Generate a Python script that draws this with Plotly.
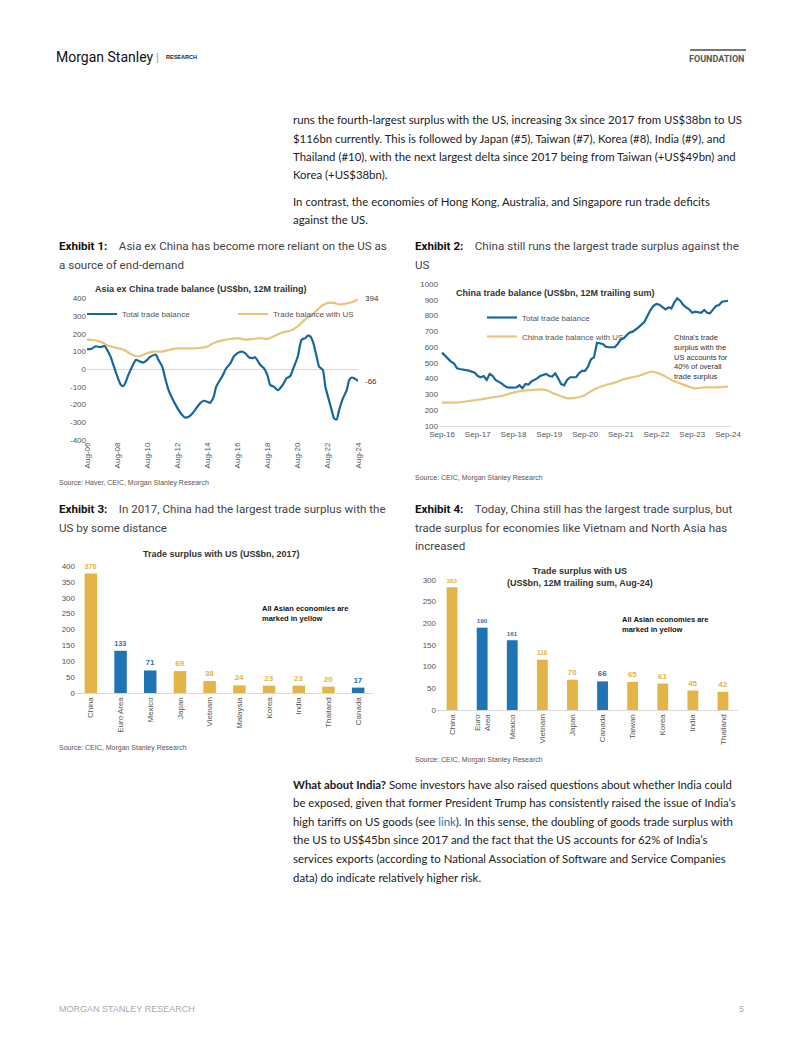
import plotly.graph_objects as go

W, H = 802, 1037
OFF = 8  # the page body adds an 8px margin around the figure


def px(x):
    return (x - OFF) / W


def py(y):
    return 1 - (y - OFF) / H


# ---------------- Exhibit 1 data: Asia ex China trade balance (US$bn, 12M trailing)
ex1_total_dates = ["2006-08", "2006-11", "2007-03", "2007-07", "2007-10", "2007-12", "2008-03", "2008-05",
                   "2008-08", "2008-11", "2009-01", "2009-03", "2009-05", "2009-08", "2009-11", "2010-02",
                   "2010-05", "2010-08", "2010-10", "2011-02", "2011-03", "2011-05", "2011-08", "2011-10",
                   "2012-01", "2012-04", "2012-06", "2012-09", "2012-12", "2013-02", "2013-05", "2013-08",
                   "2013-12", "2014-02", "2014-05", "2014-08", "2014-10", "2015-01", "2015-03", "2015-06",
                   "2015-08", "2015-11", "2016-02", "2016-05", "2016-08", "2016-11", "2017-02", "2017-05",
                   "2017-08", "2017-10", "2018-02", "2018-05", "2018-08", "2018-10", "2019-01", "2019-04",
                   "2019-08", "2019-11", "2020-02", "2020-04", "2020-08", "2020-11", "2021-02", "2021-04",
                   "2021-06", "2021-08", "2021-11", "2022-01", "2022-04", "2022-06", "2022-08", "2022-11",
                   "2023-01", "2023-03", "2023-05", "2023-08", "2023-11", "2024-01", "2024-03", "2024-05",
                   "2024-08"]
ex1_total_vals = [114, 114, 129, 125, 133, 110, 68, 25,
                  -38, -89, -95, -70, -32, 15, 53, 44,
                  38, 53, 68, 82, 82, 53, 15, -42,
                  -118, -165, -193, -231, -260, -273, -269, -250,
                  -212, -193, -178, -184, -190, -155, -99, -61,
                  -38, 6, 30, 72, 91, 100, 91, 68,
                  63, 68, 25, 6, -38, -89, -99, -118,
                  -89, -51, -38, -4, 72, 167, 176, 190,
                  186, 157, 72, 15, -4, -99, -152, -231,
                  -279, -284, -231, -165, -118, -61, -47, -51,
                  -66]
ex1_us_dates = ["2006-08", "2007-04", "2007-08", "2008-01", "2008-08", "2009-01", "2009-08", "2010-01",
                "2010-08", "2011-01", "2011-08", "2012-02", "2012-08", "2013-08", "2014-02", "2014-08",
                "2015-01", "2015-08", "2016-02", "2016-08", "2017-02", "2017-08", "2018-02", "2018-08",
                "2019-02", "2019-08", "2020-02", "2020-08", "2021-02", "2021-08", "2022-02", "2022-08",
                "2023-01", "2023-05", "2023-08", "2024-03", "2024-08"]
ex1_us_vals = [167, 161, 152, 133, 120, 110, 82, 72,
               91, 100, 100, 110, 118, 118, 120, 129,
               148, 163, 171, 176, 167, 171, 176, 171,
               190, 209, 218, 243, 284, 309, 353, 375,
               375, 366, 368, 379, 394]
ex1_tick_dates = ["2006-08", "2008-08", "2010-08", "2012-08", "2014-08", "2016-08", "2018-08", "2020-08",
                  "2022-08", "2024-08"]
ex1_tick_labels = ["Aug-06", "Aug-08", "Aug-10", "Aug-12", "Aug-14", "Aug-16", "Aug-18", "Aug-20",
                   "Aug-22", "Aug-24"]
ex1_y_ticks = [-400, -300, -200, -100, 0, 100, 200, 300, 400]

# ---------------- Exhibit 2 data: China trade balance (US$bn, 12M trailing sum)
ex2_total_dates = ["2016-09", "2016-10", "2016-11", "2016-12", "2017-01", "2017-02", "2017-03", "2017-06",
                   "2017-08", "2017-09", "2017-10", "2017-11", "2017-12", "2018-01", "2018-02", "2018-03",
                   "2018-05", "2018-06", "2018-07", "2018-08", "2018-10", "2018-11", "2018-12", "2019-01",
                   "2019-02", "2019-03", "2019-05", "2019-06", "2019-08", "2019-09", "2019-10", "2019-11",
                   "2019-12", "2020-01", "2020-02", "2020-03", "2020-04", "2020-06", "2020-07", "2020-08",
                   "2020-09", "2020-10", "2020-11", "2020-12", "2021-01", "2021-03", "2021-04", "2021-05",
                   "2021-07", "2021-08", "2021-09", "2021-10", "2021-11", "2021-12", "2022-01", "2022-02",
                   "2022-03", "2022-05", "2022-06", "2022-07", "2022-08", "2022-09", "2022-10", "2022-11",
                   "2022-12", "2023-01", "2023-02", "2023-03", "2023-04", "2023-05", "2023-06", "2023-07",
                   "2023-08", "2023-09", "2023-10", "2023-12", "2024-01", "2024-02", "2024-03", "2024-04",
                   "2024-05", "2024-06", "2024-07", "2024-09"]
ex2_total_vals = [565, 544, 529, 508, 497, 466, 461, 451,
                  438, 417, 409, 417, 392, 430, 417, 392,
                  370, 354, 345, 343, 345, 358, 339, 366,
                  362, 381, 402, 417, 430, 417, 413, 434,
                  402, 366, 358, 392, 409, 409, 434, 449,
                  449, 476, 523, 535, 628, 620, 603, 599,
                  599, 620, 649, 656, 677, 692, 698, 713,
                  725, 761, 804, 835, 861, 873, 869, 856,
                  839, 852, 846, 882, 909, 894, 867, 852,
                  839, 818, 825, 818, 835, 818, 814, 839,
                  861, 867, 888, 894]
ex2_us_dates = ["2016-09", "2016-11", "2017-02", "2017-07", "2017-10", "2018-02", "2018-05", "2018-08",
                "2018-12", "2019-03", "2019-06", "2019-08", "2019-11", "2020-02", "2020-03", "2020-07",
                "2020-09", "2020-12", "2021-04", "2021-07", "2021-10", "2022-03", "2022-07", "2022-08",
                "2022-11", "2023-02", "2023-05", "2023-08", "2023-10", "2024-01", "2024-05", "2024-09"]
ex2_us_vals = [248, 248, 248, 261, 269, 282, 290, 307,
               324, 328, 332, 328, 303, 282, 275, 282,
               297, 332, 360, 375, 396, 417, 444, 444,
               423, 392, 370, 349, 339, 345, 345, 349]
ex2_tick_dates = ["2016-09", "2017-09", "2018-09", "2019-09", "2020-09", "2021-09", "2022-09", "2023-09",
                  "2024-09"]
ex2_tick_labels = ["Sep-16", "Sep-17", "Sep-18", "Sep-19", "Sep-20", "Sep-21", "Sep-22", "Sep-23", "Sep-24"]
ex2_y_ticks = [100, 200, 300, 400, 500, 600, 700, 800, 900, 1000]

# ---------------- Exhibit 3 data: Trade surplus with US (US$bn, 2017)
ex3_countries = ["China", "Euro Area", "Mexico", "Japan", "Vietnam", "Malaysia", "Korea", "India",
                 "Thailand", "Canada"]
ex3_values = [376, 133, 71, 69, 38, 24, 23, 23, 20, 17]
ex3_is_asian = [True, False, False, True, True, True, True, True, True, False]
ex3_y_ticks = [0, 50, 100, 150, 200, 250, 300, 350, 400]

# ---------------- Exhibit 4 data: Trade surplus with US (US$bn, 12M trailing sum, Aug-24)
ex4_countries = ["China", "Euro<br>Area", "Mexico", "Vietnam", "Japan", "Canada", "Taiwan", "Korea",
                 "India", "Thailand"]
ex4_values = [283, 190, 161, 116, 70, 66, 65, 61, 45, 42]
ex4_is_asian = [True, False, False, True, True, False, True, True, True, True]
ex4_y_ticks = [0, 50, 100, 150, 200, 250, 300]

# ---------------- styles
BLUE_LINE = "#17679f"
GOLD_LINE = "#e6c57c"
BLUE_BAR = "#1f74b3"
GOLD_BAR = "#e3b448"
CHART_FONT = "Liberation Sans, Arial, sans-serif"
TICK_FONT = dict(family=CHART_FONT, size=8, color="#555555")
AXIS_GREY = "#d9d9d9"


def ylabels(vals):
    return [str(v) for v in vals]


fig = go.Figure()

# Exhibit 1 lines
fig.add_trace(go.Scatter(x=ex1_total_dates, y=ex1_total_vals, mode="lines", name="Total trade balance",
                         line=dict(color=BLUE_LINE, width=2.2, shape="spline", smoothing=0.6),
                         xaxis="x", yaxis="y", legend="legend"))
fig.add_trace(go.Scatter(x=ex1_us_dates, y=ex1_us_vals, mode="lines", name="Trade balance with US",
                         line=dict(color=GOLD_LINE, width=2.2, shape="spline", smoothing=0.6),
                         xaxis="x", yaxis="y", legend="legend"))

# Exhibit 2 lines
fig.add_trace(go.Scatter(x=ex2_total_dates, y=ex2_total_vals, mode="lines", name="Total trade balance",
                         line=dict(color=BLUE_LINE, width=2.2),
                         xaxis="x2", yaxis="y2", legend="legend2", legendgroup="a"))
fig.add_trace(go.Scatter(x=ex2_us_dates, y=ex2_us_vals, mode="lines", name="China trade balance with US",
                         line=dict(color=GOLD_LINE, width=2.2, shape="spline", smoothing=0.5),
                         xaxis="x2", yaxis="y2", legend="legend2", legendgroup="b"))

# Exhibit 3 bars
ex3_colors = [GOLD_BAR if a else BLUE_BAR for a in ex3_is_asian]
fig.add_trace(go.Bar(x=ex3_countries, y=ex3_values, marker=dict(color=ex3_colors, line=dict(width=0)),
                     width=0.42, text=ex3_values, texttemplate="<b>%{text}</b>", textposition="outside",
                     textfont=dict(family=CHART_FONT, size=8, color=ex3_colors), cliponaxis=False,
                     showlegend=False, xaxis="x3", yaxis="y3"))

# Exhibit 4 bars
ex4_colors = [GOLD_BAR if a else BLUE_BAR for a in ex4_is_asian]
fig.add_trace(go.Bar(x=ex4_countries, y=ex4_values, marker=dict(color=ex4_colors, line=dict(width=0)),
                     width=0.36, text=ex4_values, texttemplate="<b>%{text}</b>", textposition="outside",
                     textfont=dict(family=CHART_FONT, size=8, color=ex4_colors), cliponaxis=False,
                     showlegend=False, xaxis="x4", yaxis="y4"))

common_axis = dict(automargin=False, showgrid=False, ticks="", tickfont=TICK_FONT)

layout = dict(
    template="none",
    width=W, height=H, margin=dict(l=0, r=0, t=0, b=0, pad=0, autoexpand=False),
    paper_bgcolor="white", plot_bgcolor="rgba(0,0,0,0)",
    font=dict(family=CHART_FONT, size=8, color="#444"),
    # Exhibit 1 axes
    xaxis=dict(domain=[px(87), px(358)], range=["2006-08-01", "2024-08-01"], type="date",
               tickvals=ex1_tick_dates, ticktext=ex1_tick_labels, tickangle=-90,
               showline=False, zeroline=False, anchor="y", **common_axis),
    yaxis=dict(domain=[py(440), py(298.5)], range=[-400, 400], tickvals=ex1_y_ticks,
               ticktext=ylabels(ex1_y_ticks), zeroline=True, zerolinecolor=AXIS_GREY,
               zerolinewidth=1, showline=False, anchor="x", **common_axis),
    # Exhibit 2 axes
    xaxis2=dict(domain=[px(439), px(731)], range=["2016-08-01", "2024-10-01"], type="date",
                tickvals=ex2_tick_dates, ticktext=ex2_tick_labels, tickangle=0,
                showline=True, linecolor=AXIS_GREY, linewidth=1, zeroline=False, anchor="y2",
                **common_axis),
    yaxis2=dict(domain=[py(426), py(284)], range=[100, 1000], tickvals=ex2_y_ticks,
                ticktext=ylabels(ex2_y_ticks), zeroline=False, showline=False, anchor="x2",
                **common_axis),
    # Exhibit 3 axes
    xaxis3=dict(domain=[px(76), px(373)], type="category", range=[-0.5, 9.5], tickangle=-90,
                showline=True, linecolor=AXIS_GREY, linewidth=1, anchor="y3", **common_axis),
    yaxis3=dict(domain=[py(693), py(566)], range=[0, 400], tickvals=ex3_y_ticks,
                ticktext=ylabels(ex3_y_ticks), zeroline=False, showline=False, anchor="x3",
                **common_axis),
    # Exhibit 4 axes
    xaxis4=dict(domain=[px(437), px(738)], type="category", range=[-0.5, 9.5], tickangle=-90,
                showline=True, linecolor=AXIS_GREY, linewidth=1, anchor="y4", **common_axis),
    yaxis4=dict(domain=[py(710), py(580)], range=[0, 300], tickvals=ex4_y_ticks,
                ticktext=ylabels(ex4_y_ticks), zeroline=False, showline=False, anchor="x4",
                **common_axis),
    legend=dict(x=px(82), y=py(314), xanchor="left", yanchor="middle", orientation="h",
                font=dict(family=CHART_FONT, size=8, color="#555"), bgcolor="rgba(0,0,0,0)",
                itemwidth=30, entrywidth=106, entrywidthmode="pixels", borderwidth=0),
    legend2=dict(x=px(482), y=py(303), xanchor="left", yanchor="top", orientation="v",
                 font=dict(family=CHART_FONT, size=8, color="#555"), bgcolor="rgba(0,0,0,0)",
                 itemwidth=30, tracegroupgap=0, borderwidth=0),
)
fig.update_layout(**layout)

annotations = []


def note(x, y, text, size=8, color="#333", family=CHART_FONT, xanchor="left", yanchor="middle",
         align="left"):
    annotations.append(dict(x=px(x), y=py(y), xref="paper", yref="paper", text=text, showarrow=False,
                            xanchor=xanchor, yanchor=yanchor, align=align,
                            font=dict(size=size, color=color, family=family)))


# Header
note(54, 57, "Morgan Stanley", size=14, color="#111", family="Roboto, sans-serif")
note(154, 57, "|", size=11, color="#999")
note(164, 57.5, "<b>RESEARCH</b>", size=5.5, color="#222")
note(746, 59, "<b>FOUNDATION</b>", size=9, color="#555", family="Roboto, sans-serif", xanchor="right")

# Body text (top)
BODY_FONT = "Lato, Open Sans, sans-serif"
BODY_SIZE = 11.4
BODY_X = 291
top_lines = [
    "runs the fourth-largest surplus with the US, increasing 3x since 2017 from US$38bn to US",
    "$116bn currently. This is followed by Japan (#5), Taiwan (#7), Korea (#8), India (#9), and",
    "Thailand (#10), with the next largest delta since 2017 being from Taiwan (+US$49bn) and",
    "Korea (+US$38bn).",
]
for i, t in enumerate(top_lines):
    note(BODY_X, 120 + 18.3 * i, t, size=BODY_SIZE, color="#222", family=BODY_FONT)
top_lines2 = [
    "In contrast, the economies of Hong Kong, Australia, and Singapore run trade deficits",
    "against the US.",
]
for i, t in enumerate(top_lines2):
    note(BODY_X, 201 + 18.3 * i, t, size=BODY_SIZE, color="#222", family=BODY_FONT)

# Exhibit captions
CAP_FONT = "Roboto, sans-serif"
CAP_SIZE = 11.6
SP = "\u00a0" * 4
note(57, 246, "<b>Exhibit 1:</b>" + SP + "<span style='color:#444'>Asia ex China has become more reliant on the US as</span>",
     size=CAP_SIZE, color="#111", family=CAP_FONT)
note(57, 265, "a source of end-demand", size=CAP_SIZE, color="#444", family=CAP_FONT)
note(413, 246, "<b>Exhibit 2:</b>" + SP + "<span style='color:#444'>China still runs the largest trade surplus against the</span>",
     size=CAP_SIZE, color="#111", family=CAP_FONT)
note(413, 265, "US", size=CAP_SIZE, color="#444", family=CAP_FONT)
note(57, 509, "<b>Exhibit 3:</b>" + SP + "<span style='color:#444'>In 2017, China had the largest trade surplus with the</span>",
     size=CAP_SIZE, color="#111", family=CAP_FONT)
note(57, 528, "US by some distance", size=CAP_SIZE, color="#444", family=CAP_FONT)
note(413, 509, "<b>Exhibit 4:</b>" + SP + "<span style='color:#444'>Today, China still has the largest trade surplus, but</span>",
     size=CAP_SIZE, color="#111", family=CAP_FONT)
note(413, 528, "trade surplus for economies like Vietnam and North Asia has", size=CAP_SIZE, color="#444",
     family=CAP_FONT)
note(413, 546, "increased", size=CAP_SIZE, color="#444", family=CAP_FONT)

# Chart titles
note(93, 289, "<b>Asia ex China trade balance (US$bn, 12M trailing)</b>", size=9, color="#333")
note(454, 293, "<b>China trade balance (US$bn, 12M trailing sum)</b>", size=9, color="#333")
note(222, 554, "<b>Trade surplus with US (US$bn, 2017)</b>", size=9, color="#333", xanchor="center")
note(580, 577, "<b>Trade surplus with US<br>(US$bn, 12M trailing sum, Aug-24)</b>", size=9, color="#333",
     xanchor="center", align="center")

# End labels exhibit 1
note(363, 299, str(ex1_us_vals[-1]), size=8, color="#333")
note(363, 382, str(ex1_total_vals[-1]), size=8, color="#333")

# Exhibit 2 annotation
note(672, 357, "China's trade<br>surplus with the<br>US accounts for<br>40% of overall<br>trade surplus",
     size=7.5, color="#333")

# Exhibit 3/4 annotations
note(260, 613, "<b>All Asian economies are<br>marked in yellow</b>", size=7.5, color="#111")
note(620, 624.5, "<b>All Asian economies are<br>marked in yellow</b>", size=7.5, color="#111")

# Sources
note(57, 483, "Source: Haver, CEIC, Morgan Stanley Research", size=7, color="#555")
note(413, 478, "Source: CEIC, Morgan Stanley Research", size=7, color="#555")
note(57, 748, "Source: CEIC, Morgan Stanley Research", size=7, color="#555")
note(413, 760, "Source: CEIC, Morgan Stanley Research", size=7, color="#555")

# Body text (bottom)
bottom_lines = [
    "<b>What about India?</b> Some investors have also raised questions about whether India could",
    "be exposed, given that former President Trump has consistently raised the issue of India\u2019s",
    "high tariffs on US goods (see <span style='color:#1f6fb5'>link</span>). In this sense, the doubling of goods trade surplus with",
    "the US to US$45bn since 2017 and the fact that the US accounts for 62% of India\u2019s",
    "services exports (according to National Association of Software and Service Companies",
    "data) do indicate relatively higher risk.",
]
for i, t in enumerate(bottom_lines):
    note(BODY_X, 784 + 18.6 * i, t, size=BODY_SIZE, color="#222", family=BODY_FONT)

# Footer
note(57, 1009, "MORGAN STANLEY RESEARCH", size=9, color="#aaaaaa")
note(746, 1009, "5", size=9, color="#aaaaaa", xanchor="right")

fig.update_layout(annotations=annotations)
fig.add_shape(type="rect", xref="paper", yref="paper", x0=px(690), x1=px(746), y0=py(51), y1=py(49),
              fillcolor="#777", line=dict(width=0))

fig.write_html("out.html")
